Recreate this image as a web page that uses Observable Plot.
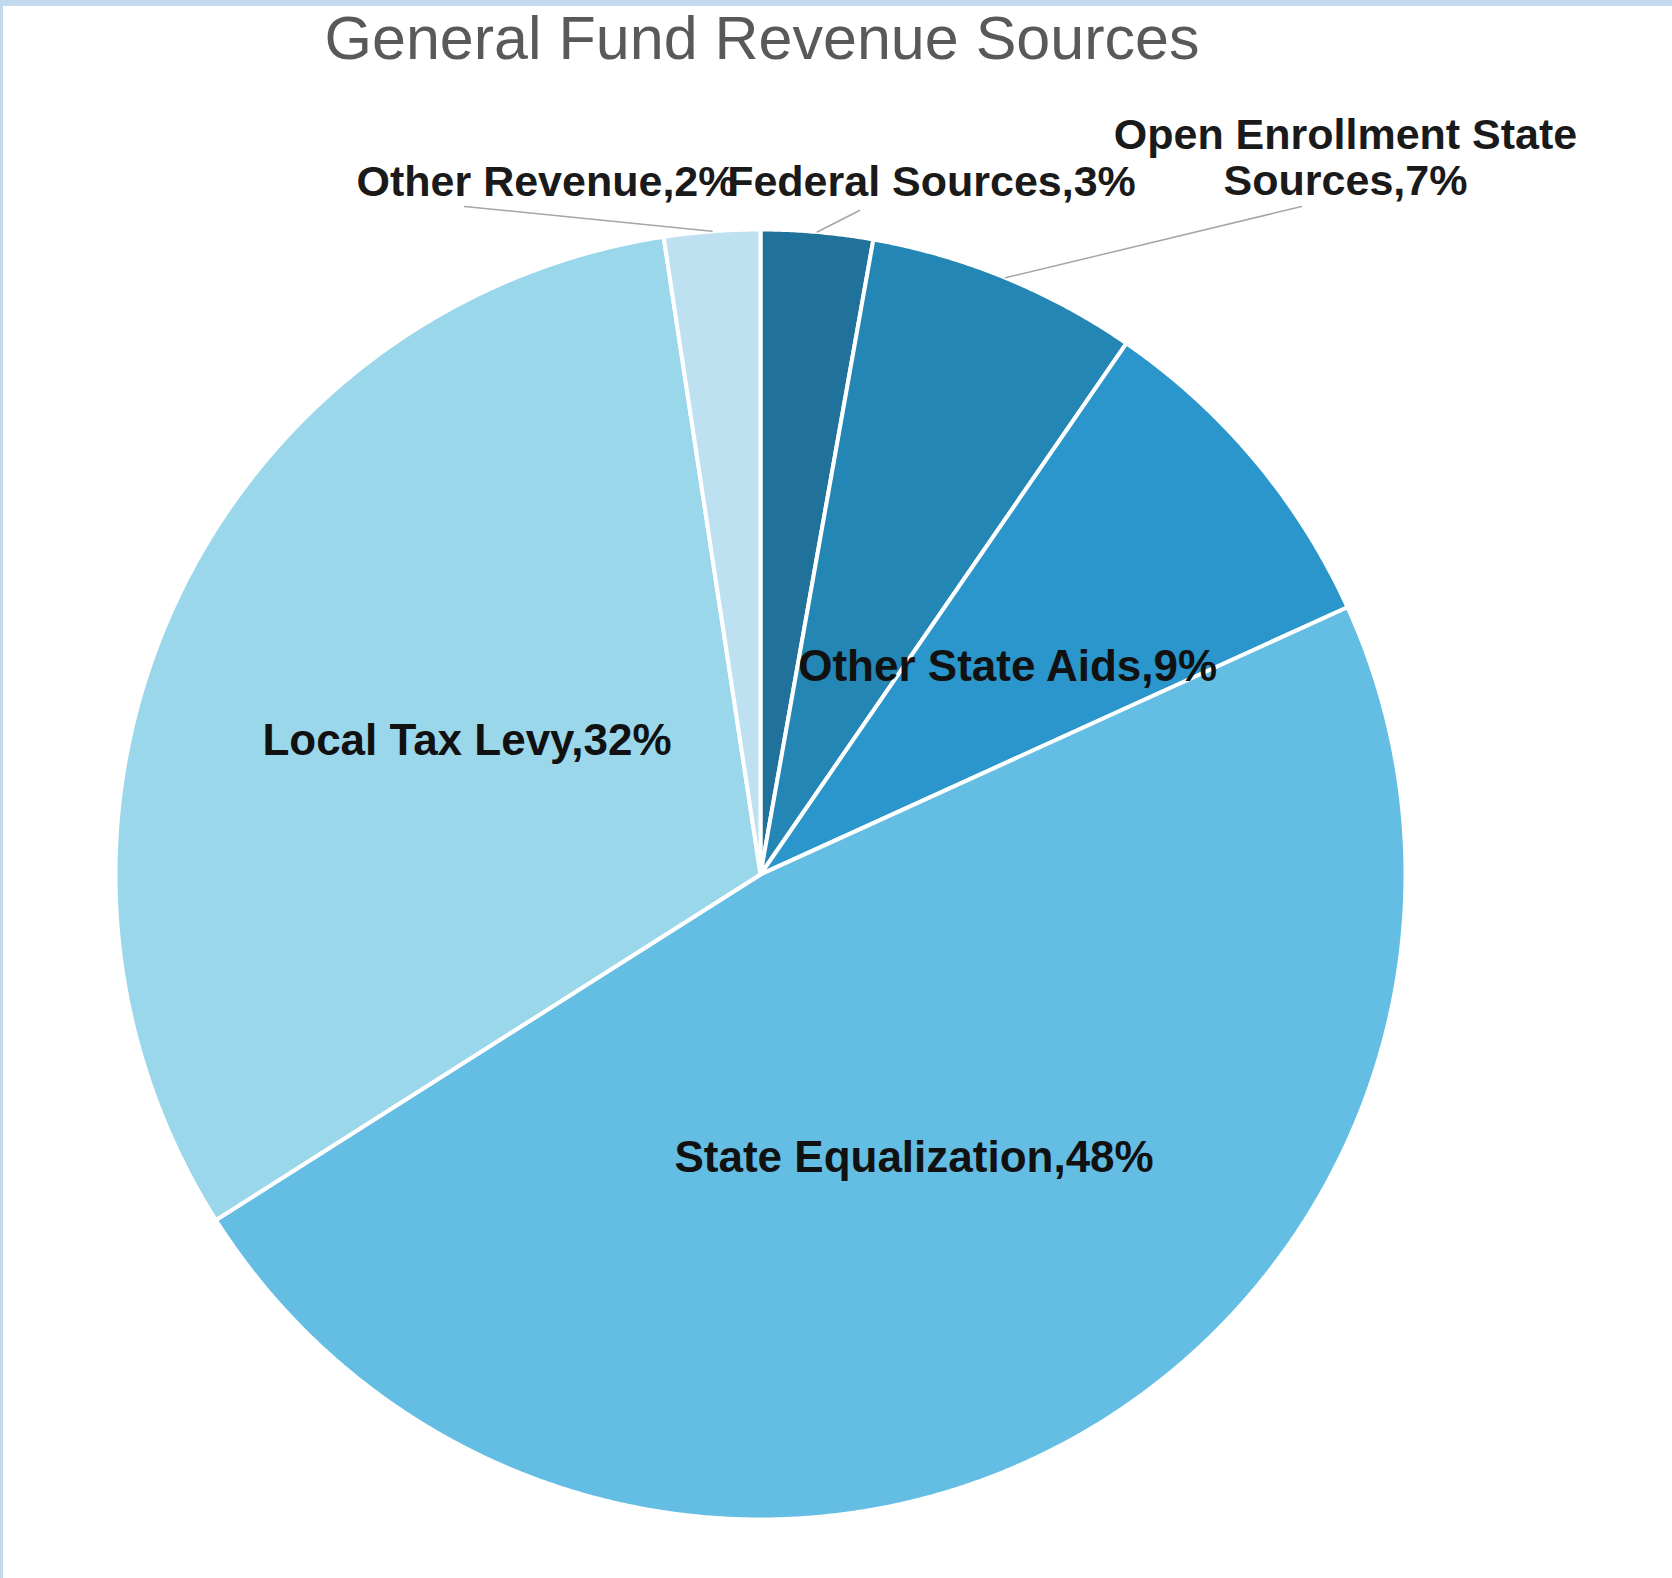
<!DOCTYPE html>
<html>
<head>
<meta charset="utf-8">
<script src="https://cdn.jsdelivr.net/npm/d3@7"></script>
<script src="https://cdn.jsdelivr.net/npm/@observablehq/plot@0.6"></script>
<style>
  html, body { margin: 0; padding: 0; background: #fff; }
  #wrap { position: relative; width: 1672px; height: 1578px; overflow: hidden; background: #fff; }
  #topbar { position: absolute; left: 0; top: 0; width: 1672px; height: 6px; background: #C3DAEE; z-index: 2; }
  #leftbar { position: absolute; left: 0; top: 0; width: 3px; height: 1578px; background: #C3DAEE; z-index: 2; }
  #title { position: absolute; left: 0; top: 3px; width: 1524px; text-align: center;
           font-family: "Liberation Sans", Arial, sans-serif; font-size: 61px; color: #595959;
           line-height: 70px; z-index: 1; }
  #chart { position: absolute; left: 0; top: 0; }
</style>
</head>
<body>
<div id="wrap">
  <div id="topbar"></div>
  <div id="leftbar"></div>
  <div id="title">General Fund Revenue Sources</div>
  <div id="chart"></div>
</div>
<script>
// ---- data (clockwise from 12 o'clock) ----
const categories = ["Federal Sources", "Open Enrollment State Sources", "Other State Aids",
                    "State Equalization", "Local Tax Levy", "Other Revenue"];
const shares = [2.8, 6.8, 8.6, 47.8, 31.6, 2.4];
const colors = ["#20729A", "#2386B4", "#2A96CB", "#64BDE2", "#9BD7EB", "#BDE1F0"];
// label text lines
const labelLines = [
  ["Federal Sources,3%"],
  ["Open Enrollment State", "Sources,7%"],
  ["Other State Aids,9%"],
  ["State Equalization,48%"],
  ["Local Tax Levy,32%"],
  ["Other Revenue,2%"]
];
// labels placed outside (with leader lines) vs inside
const outside = [true, true, false, false, false, true];

// ---- layout (pixels) ----
const W = 1672, H = 1578;
const CX = 760, CY = 874, R = 645;
const xDom = [-CX / R, (W - CX) / R];
const yDom = [-(H - CY) / R, CY / R];
// outside label anchor offsets (in radius units relative to center) for callouts
const outsideLabelPos = {
  0: {x: (931 - CX) / R, y: (CY - 181) / R, lineEnd: {x: (859 - CX) / R, y: (CY - 210) / R}},
  1: {x: (1345 - CX) / R, y: (CY - 157) / R, lineEnd: {x: (1301 - CX) / R, y: (CY - 206) / R}},
  5: {x: (546 - CX) / R, y: (CY - 181) / R, lineEnd: {x: (464 - CX) / R, y: (CY - 206) / R}}
};

// ---- derived geometry ----
const total = d3.sum(shares);
let acc = 0;
const slices = categories.map((c, i) => {
  const a0 = acc / total * 2 * Math.PI;
  acc += shares[i];
  const a1 = acc / total * 2 * Math.PI;
  return {category: c, value: shares[i], color: colors[i], a0, a1, mid: (a0 + a1) / 2, i};
});
function pt(a, r) { return {x: r * Math.sin(a), y: r * Math.cos(a)}; }
const polys = slices.map(s => {
  const pts = [{...pt(0, 0)}];
  const n = Math.max(8, Math.ceil((s.a1 - s.a0) / (Math.PI / 720)));
  for (let k = 0; k <= n; k++) pts.push(pt(s.a0 + (s.a1 - s.a0) * k / n, 1));
  pts.push(pt(0, 0));
  return pts;
});

const insideLabels = slices.filter(s => !outside[s.i]).map(s => ({...pt(s.mid, 0.5), text: labelLines[s.i].join("\n")}));
const outsideLabels = slices.filter(s => outside[s.i]).map(s => ({x: outsideLabelPos[s.i].x, y: outsideLabelPos[s.i].y, text: labelLines[s.i].join("\n")}));
const leaders = slices.filter(s => outside[s.i]).map(s => {
  const p = pt(s.mid, 1.0);
  const e = outsideLabelPos[s.i].lineEnd;
  return [{x: p.x, y: p.y}, {x: e.x, y: e.y}];
});

const marks = [];
polys.forEach((p, i) => {
  marks.push(Plot.line(p, {x: "x", y: "y", fill: colors[i], stroke: "#ffffff", strokeWidth: 4, strokeLinejoin: "round", curve: "linear"}));
});
leaders.forEach(l => {
  marks.push(Plot.line(l, {x: "x", y: "y", stroke: "#A6A6A6", strokeWidth: 1.5}));
});
marks.push(Plot.text(insideLabels, {x: "x", y: "y", text: "text", fontSize: 44, fontWeight: "bold", fill: "#111", lineAnchor: "middle", textAnchor: "middle", fontFamily: "Liberation Sans, Arial, sans-serif"}));
marks.push(Plot.text(outsideLabels, {x: "x", y: "y", text: "text", fontSize: 43, fontWeight: "bold", fill: "#1a1a1a", lineAnchor: "middle", textAnchor: "middle", lineHeight: 1.07, fontFamily: "Liberation Sans, Arial, sans-serif"}));

const chart = Plot.plot({
  width: W,
  height: H,
  margin: 0,
  x: {domain: xDom, axis: null},
  y: {domain: yDom, axis: null},
  style: {background: "transparent", overflow: "visible"},
  marks
});
document.getElementById("chart").appendChild(chart);
</script>
</body>
</html>
